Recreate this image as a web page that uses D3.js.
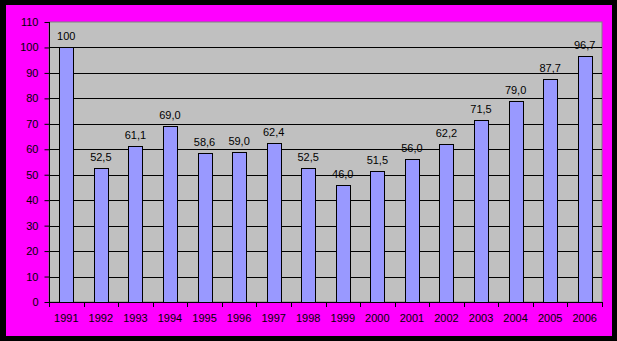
<!DOCTYPE html>
<html><head><meta charset="utf-8">
<script src="https://cdn.jsdelivr.net/npm/d3@7"></script>
<style>html,body{margin:0;padding:0;background:#000;}svg{display:block;}</style>
</head><body>
<script>
const years = ["1991","1992","1993","1994","1995","1996","1997","1998","1999","2000","2001","2002","2003","2004","2005","2006"];
const values = [100,52.5,61.1,69.0,58.6,59.0,62.4,52.5,46.0,51.5,56.0,62.2,71.5,79.0,87.7,96.7];
const labels = ["100","52,5","61,1","69,0","58,6","59,0","62,4","52,5","46,0","51,5","56,0","62,2","71,5","79,0","87,7","96,7"];
const yTicks = [0,10,20,30,40,50,60,70,80,90,100,110];

const W=617,H=341;
const svg=d3.select("body").append("svg").attr("width",W).attr("height",H);
svg.append("rect").attr("width",W).attr("height",H).attr("fill","#000");
svg.append("rect").attr("x",6).attr("y",5).attr("width",606).attr("height",331).attr("fill","#FF00FF");

const L=49,R=602,T=22,B=302;
const x=d3.scaleBand().domain(years).range([L,R]).paddingInner(0).paddingOuter(0);
const y=d3.scaleLinear().domain([0,110]).range([B,T]);

svg.append("rect").attr("x",L).attr("y",T).attr("width",R-L).attr("height",B-T)
  .attr("fill","#C0C0C0").attr("stroke","#808080").attr("stroke-width",1);

svg.append("g").selectAll("line").data(yTicks.filter(d=>d>0&&d<110)).join("line")
  .attr("x1",L).attr("x2",R).attr("y1",d=>Math.round(y(d))+0.5).attr("y2",d=>Math.round(y(d))+0.5)
  .attr("stroke","#000").attr("stroke-width",1);

const bw=14;
svg.append("g").selectAll("rect").data(values).join("rect")
  .attr("x",(d,i)=>Math.round(x(years[i])+x.bandwidth()/2-bw/2)+0.5)
  .attr("y",d=>Math.round(y(d))+0.5)
  .attr("width",bw)
  .attr("height",d=>Math.round(y(0))-Math.round(y(d)))
  .attr("fill","#9999FF").attr("stroke","#000").attr("stroke-width",1);

svg.append("g").selectAll("text").data(values).join("text")
  .attr("x",(d,i)=>x(years[i])+x.bandwidth()/2)
  .attr("y",d=>y(d)-7)
  .attr("text-anchor","middle")
  .attr("font-family","Arial, Liberation Sans, sans-serif").attr("font-size",11)
  .attr("fill","#000")
  .text((d,i)=>labels[i]);

const yAxis=svg.append("g").attr("transform",`translate(${L+0.5},0)`)
  .call(d3.axisLeft(y).tickValues(yTicks).tickSize(5).tickPadding(6).tickFormat(d3.format("d")));
const xAxis=svg.append("g").attr("transform",`translate(0,${B+0.5})`)
  .call(d3.axisBottom(x).tickSize(0).tickPadding(12));
// tick marks at category boundaries
svg.append("g").selectAll("line").data(years.concat(["end"])).join("line")
  .attr("x1",(d,i)=>Math.round(L+i*x.step())+0.5).attr("x2",(d,i)=>Math.round(L+i*x.step())+0.5)
  .attr("y1",B).attr("y2",B+5).attr("stroke","#000");

[yAxis,xAxis].forEach(a=>{
  a.select(".domain").attr("stroke","#000").attr("stroke-width",1);
  a.selectAll(".tick line").attr("stroke","#000");
  a.selectAll("text").attr("font-family","Arial, Liberation Sans, sans-serif").attr("font-size",11).attr("fill","#000");
});
yAxis.select(".domain").attr("d",`M-0,${B}V${T}`);
xAxis.select(".domain").attr("d",`M${L},0H${R}`);
</script>
</body></html>
